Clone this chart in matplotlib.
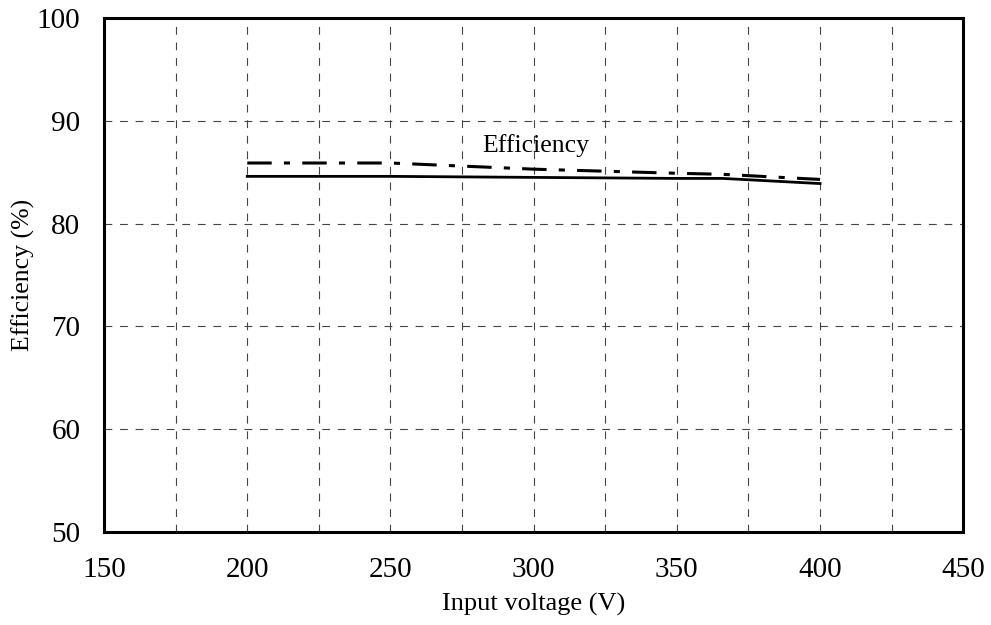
import matplotlib
matplotlib.use("Agg")
import matplotlib.pyplot as plt

plt.rcParams['font.family'] = ['Liberation Serif', 'DejaVu Serif']

voltage = [200, 250, 300, 350, 366, 400]
eff_solid = [84.6, 84.6, 84.5, 84.4, 84.4, 83.9]
eff_dashed = [85.9, 85.9, 85.3, 84.9, 84.8, 84.3]

x_ticks = [150, 200, 250, 300, 350, 400, 450]
y_ticks = [50, 60, 70, 80, 90, 100]

fig = plt.figure(figsize=(9.91, 6.25), dpi=100)
ax = fig.add_axes([0.105, 0.149, 0.867, 0.822])

ax.plot(voltage, eff_dashed, color='black', lw=2.2, linestyle=(0, (8, 4, 2, 4)))
ax.plot(voltage, eff_solid, color='black', lw=2.0)

ax.set_xlim(150, 450)
ax.set_ylim(50, 100)
ax.set_xticks(x_ticks)
ax.set_yticks(y_ticks)
ax.set_xticks(range(175, 450, 50), minor=True)

ax.grid(True, which='both', color='#444444', lw=0.8, linestyle=(0, (7, 7)))
ax.tick_params(which='both', length=0)
ax.tick_params(axis='x', pad=18, labelsize=21)
ax.tick_params(axis='y', pad=17, labelsize=21)

for s in ax.spines.values():
    s.set_linewidth(2.2)

ax.set_xlabel('Input voltage (V)', fontsize=19, labelpad=7)
ax.set_ylabel('Efficiency (%)', fontsize=18.5, labelpad=1)
ax.text(282, 87.0, 'Efficiency', fontsize=18.5)

fig.savefig('out.png', dpi=100)
